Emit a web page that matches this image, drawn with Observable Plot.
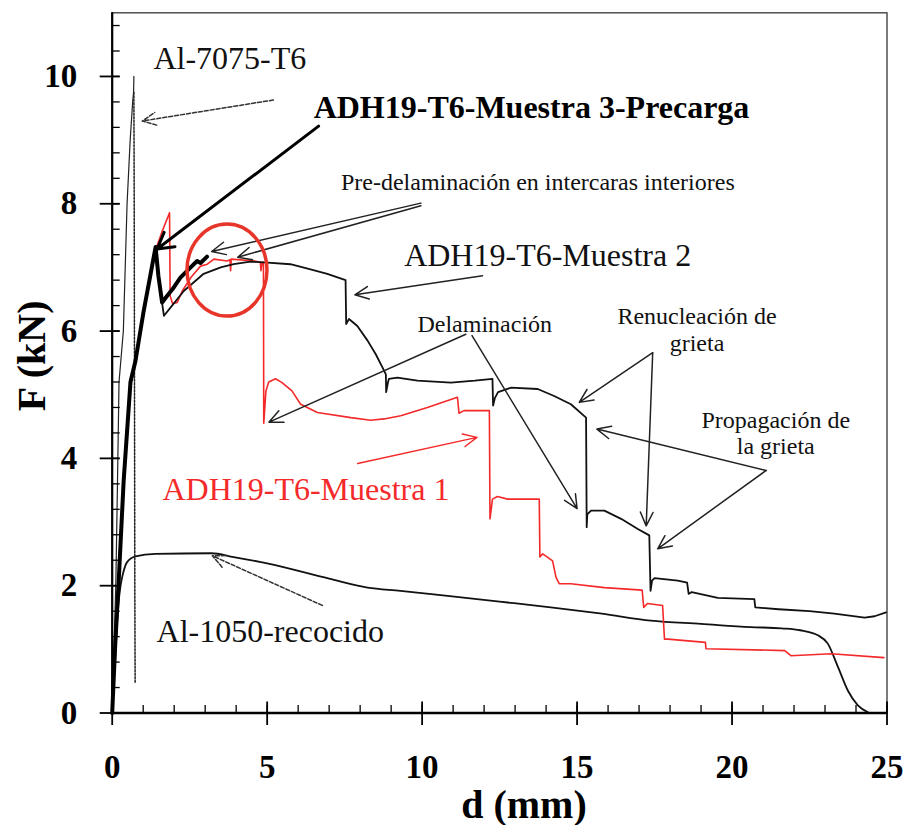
<!DOCTYPE html>
<html>
<head>
<meta charset="utf-8">
<script src="https://cdn.jsdelivr.net/npm/d3@7"></script>
<script src="https://cdn.jsdelivr.net/npm/@observablehq/plot@0.6"></script>
<style>
  html, body { margin: 0; padding: 0; background: #fff; }
  #chart { width: 906px; height: 825px; }
</style>
</head>
<body>
<div id="chart"></div>
<script>
// ---------- data (d in mm, F in kN) ----------
const al7075LoadD = [0, 0.06, 0.12, 0.17, 0.22, 0.36, 0.42, 0.48, 0.58, 0.66, 0.69, 0.70];
const al7075LoadF = [0, 1.0, 2.1, 3.6, 5.2, 6.0, 7.0, 8.0, 9.0, 9.6, 9.75, 10.0];
const al7075DropD = [0.70, 0.71, 0.72, 0.73, 0.74];
const al7075DropF = [9.75, 8.0, 5.0, 2.0, 0.46];

const m3D = [0, 0.1, 0.21, 0.37, 0.59, 0.75, 1.01, 1.24, 1.40, 1.49, 1.61, 1.75, 1.95, 2.2, 2.53, 2.74, 2.85, 3.06];
const m3F = [0, 1.1, 2.08, 3.65, 5.2, 5.53, 6.3, 6.9, 7.32, 6.87, 6.45, 6.54, 6.66, 6.84, 7.0, 7.1, 7.07, 7.17];

const m2D = [0, 0.21, 0.37, 0.59, 0.75, 1.01, 1.24, 1.40, 1.50, 1.67, 1.9, 2.31, 2.95, 3.5, 3.92, 4.46, 4.9, 5.75, 6.4, 6.94, 7.53,
  7.55, 7.64, 7.91, 8.24, 8.5, 8.72, 8.83, 8.84, 8.9, 8.93, 9.2, 9.85, 10.93, 11.7, 12.27, 12.29, 12.35, 12.45, 12.86, 13.73,
  14.26, 14.8, 15.29, 15.31, 15.33, 15.45, 15.88, 16.42, 16.96, 17.33, 17.37, 17.42, 17.5, 18.25, 18.55, 18.6, 18.7, 19.54,
  20.72, 20.75, 21.5, 22.5, 23.3, 24.28, 24.6, 24.97];
const m2F = [0, 2.08, 3.65, 5.2, 5.53, 6.3, 6.9, 7.3, 6.8, 6.24, 6.38, 6.63, 6.9, 7.0, 7.05, 7.09, 7.08, 7.05, 6.97, 6.9, 6.8,
  6.11, 6.19, 6.08, 5.85, 5.64, 5.43, 5.32, 5.04, 5.2, 5.25, 5.27, 5.22, 5.19, 5.22, 5.25, 4.83, 4.95, 5.04, 5.11, 5.09,
  4.98, 4.85, 4.64, 2.92, 3.12, 3.18, 3.18, 3.05, 2.89, 2.79, 1.92, 2.08, 2.12, 2.08, 2.05, 1.87, 1.9, 1.81,
  1.79, 1.66, 1.63, 1.6, 1.56, 1.5, 1.52, 1.58];

const m1D = [0, 0.21, 0.37, 0.59, 0.75, 1.01, 1.24, 1.42, 1.6, 1.85, 1.87, 1.95, 2.1, 2.26, 2.55, 2.85, 3.07, 3.28, 3.71, 3.8, 3.82,
  3.84, 4.6, 4.78, 4.8, 4.84, 4.88, 4.89, 4.96, 5.05, 5.27, 5.48, 5.8, 6.08, 6.62, 7.7, 8.34, 8.77, 9.31, 10.17, 11.14, 11.19,
  11.35, 12.17, 12.19, 12.27, 12.43, 12.76, 13.78, 13.8, 13.89, 14.21, 14.32, 14.43, 14.8, 15.88, 17.1, 17.15, 17.27, 17.76,
  17.82, 17.93, 19.14, 19.16, 21.7, 21.9, 23.2, 24.9];
const m1F = [0, 2.08, 3.65, 5.2, 5.53, 6.3, 6.9, 7.3, 7.55, 7.86, 6.55, 6.43, 6.45, 6.63, 6.85, 7.02, 7.05, 7.13, 7.1, 7.12, 6.95,
  7.13, 7.1, 7.08, 6.95, 7.08, 7.08, 4.55, 5.06, 5.2, 5.25, 5.19, 5.06, 4.85, 4.72, 4.64, 4.6, 4.62, 4.67, 4.8, 4.96, 4.71,
  4.75, 4.75, 3.05, 3.36, 3.4, 3.36, 3.36, 2.45, 2.5, 2.39, 2.13, 2.03, 2.03, 1.97, 1.93, 1.66, 1.72, 1.69,
  1.16, 1.16, 1.11, 1.01, 0.98, 0.9, 0.93, 0.87];

const al1050D = [0, 0.1, 0.2, 0.27, 0.32, 0.4, 0.48, 0.75, 1.4, 3.2, 3.92, 5.0, 7.0, 8.24, 9.3, 10.82, 12.5, 14.15, 15.8, 17.38,
  19.0, 20.6, 21.6, 22.2, 22.77, 23.09, 23.42, 23.74, 24.06, 24.39];
const al1050F = [0, 0.9, 1.7, 2.0, 2.13, 2.28, 2.37, 2.46, 2.5, 2.51, 2.45, 2.35, 2.11, 1.97, 1.92, 1.84, 1.75, 1.66, 1.56, 1.45,
  1.4, 1.35, 1.33, 1.3, 1.22, 1.09, 0.72, 0.35, 0.12, 0.01];

// ticks
const xMajor = [0, 5, 10, 15, 20, 25];
const xMinor = d3.range(0, 26, 1);
const yMajor = [0, 2, 4, 6, 8, 10];
const yMinor = d3.range(0, 28).map(i => +(i * 0.4).toFixed(1));

// annotations (positions in mm / kN)
const labelText = ["Al-7075-T6", "ADH19-T6-Muestra 3-Precarga", "Pre-delaminación en intercaras interiores",
  "ADH19-T6-Muestra 2", "Delaminación", "Renucleación de", "grieta", "Propagación de", "la grieta",
  "ADH19-T6-Muestra 1", "Al-1050-recocido"];
const labelX = [1.33, 6.50, 7.38, 9.42, 9.85, 18.87, 18.87, 21.41, 21.41, 1.62, 1.43];
const labelY = [10.12, 9.35, 8.22, 7.03, 5.98, 6.11, 5.69, 4.48, 4.07, 3.34, 1.11];

const arrowX1 = [5.20, 6.66, 9.96, 9.96, 11.95, 11.41, 11.61, 17.44, 17.44, 21.1, 21.1, 7.92, 6.78];
const arrowY1 = [9.63, 9.22, 8.01, 7.97, 6.87, 5.95, 5.93, 5.66, 5.66, 3.81, 3.81, 3.92, 1.69];
const arrowX2 = [0.97, 1.45, 3.21, 4.05, 7.83, 5.06, 15.0, 15.07, 17.23, 15.64, 17.6, 11.77, 3.23];
const arrowY2 = [9.30, 7.29, 7.25, 7.16, 6.57, 4.57, 3.21, 4.88, 2.94, 4.46, 2.58, 4.33, 2.47];
const arrowKind = ["dashed", "bold", "thin", "thin", "thin", "thin", "thin", "thin", "thin", "thin", "thin", "red", "dashed"];

const circleCenter = [3.72, 6.95];

// ---------- build ----------
const rows = (xs, ys) => xs.map((d, i) => ({d, F: ys[i]}));
const W = 906, H = 825, ML = 111.7, MR = 19.5, MT = 12.3, MB = 112.5;
const plotW = W - ML - MR, plotH = H - MT - MB;
const RED = "#f42a2a";
const labels = labelText.map((t, i) => ({t, x: labelX[i], y: labelY[i], i}));
const arrows = arrowKind.map((k, i) => ({k, x1: arrowX1[i], y1: arrowY1[i], x2: arrowX2[i], y2: arrowY2[i]}));
const styleOf = i => {
  const t = labelText[i];
  if (t.includes("Precarga")) return {size: 32, weight: "bold", color: "#000", anchor: "start"};
  if (t.includes("Muestra 1")) return {size: 32, weight: "normal", color: RED, anchor: "start"};
  if (t.startsWith("Al-") || t.includes("Muestra 2")) return {size: 32, weight: "normal", color: "#111", anchor: "start"};
  if (/grieta|Renucleación|Propagación/.test(t)) return {size: 24, weight: "normal", color: "#111", anchor: "middle"};
  return {size: 24, weight: "normal", color: "#111", anchor: "start"};
};
const labelMarks = labels.map(l => {
  const s = styleOf(l.i);
  return Plot.text([l], {x: "x", y: "y", text: "t", textAnchor: s.anchor, lineAnchor: "bottom",
    fontSize: s.size, fontWeight: s.weight, fill: s.color});
});

const plot = Plot.plot({
  width: W, height: H,
  marginLeft: ML, marginRight: MR, marginTop: MT, marginBottom: MB,
  x: {domain: [0, 25], axis: null},
  y: {domain: [0, 11], axis: null},
  style: {fontFamily: "'Liberation Serif', 'Times New Roman', serif", background: "#fff", color: "#000", overflow: "visible"},
  marks: [
    Plot.frame({stroke: "#444", strokeWidth: 1.4}),
    Plot.line(rows(al1050D, al1050F), {x: "d", y: "F", stroke: "#111", strokeWidth: 1.8, curve: "monotone-x"}),
    Plot.line(rows(m1D, m1F), {x: "d", y: "F", stroke: RED, strokeWidth: 1.6}),
    Plot.line(rows(m2D, m2F), {x: "d", y: "F", stroke: "#111", strokeWidth: 1.8}),
    Plot.line(rows(al7075LoadD, al7075LoadF), {x: "d", y: "F", stroke: "#222", strokeWidth: 1.2}),
    Plot.line(rows(al7075DropD, al7075DropF), {x: "d", y: "F", stroke: "#222", strokeWidth: 1.5, strokeDasharray: "2,1.5"}),
    Plot.line(rows(m3D, m3F), {x: "d", y: "F", stroke: "#000", strokeWidth: 4, strokeLinejoin: "round"}),
    // axis lines
    Plot.ruleX([0], {stroke: "#000", strokeWidth: 2.2}),
    Plot.ruleY([0], {stroke: "#000", strokeWidth: 2.5}),
    // ticks
    Plot.ruleY(yMinor, {y: d => d, insetRight: plotW - 8, stroke: "#000", strokeWidth: 1.3}),
    Plot.ruleY(yMajor, {y: d => d, insetLeft: -12, insetRight: plotW - 8, stroke: "#000", strokeWidth: 1.8}),
    Plot.ruleX(xMinor, {x: d => d, insetTop: plotH - 7.5, stroke: "#000", strokeWidth: 1.3}),
    Plot.ruleX(xMajor, {x: d => d, insetTop: plotH - 11, insetBottom: -12.5, stroke: "#000", strokeWidth: 1.8}),
    // tick labels
    Plot.text(yMajor, {y: d => d, text: d => String(d), frameAnchor: "left", dx: -35, textAnchor: "end",
      fontSize: 33, fontWeight: "bold", fill: "#000"}),
    Plot.text(xMajor, {x: d => d, text: d => String(d), frameAnchor: "bottom", lineAnchor: "bottom", dy: 64.5,
      fontSize: 33, fontWeight: "bold", fill: "#000"}),
    // axis titles
    Plot.text(["F (kN)"], {text: d => d, frameAnchor: "left", dx: 44 - ML, dy: -7, rotate: -90, lineAnchor: "bottom",
      textAnchor: "middle", fontSize: 40, fontWeight: "bold", fill: "#000"}),
    Plot.text(["d (mm)"], {text: d => d, frameAnchor: "bottom", dx: 24.4, dy: 104.5, lineAnchor: "bottom",
      textAnchor: "middle", fontSize: 40, fontWeight: "bold", fill: "#000"}),
    // arrows
    Plot.arrow(arrows.filter(a => a.k === "thin"), {x1: "x1", y1: "y1", x2: "x2", y2: "y2", stroke: "#222",
      strokeWidth: 1.5, headLength: 15, headAngle: 50}),
    Plot.arrow(arrows.filter(a => a.k === "dashed"), {x1: "x1", y1: "y1", x2: "x2", y2: "y2", stroke: "#333",
      strokeWidth: 1.5, strokeDasharray: "4,2", headLength: 15, headAngle: 50}),
    Plot.arrow(arrows.filter(a => a.k === "bold"), {x1: "x1", y1: "y1", x2: "x2", y2: "y2", stroke: "#000",
      strokeWidth: 3, headLength: 9, headAngle: 60}),
    Plot.arrow(arrows.filter(a => a.k === "red"), {x1: "x1", y1: "y1", x2: "x2", y2: "y2", stroke: RED,
      strokeWidth: 1.5, headLength: 15, headAngle: 50}),
    ...labelMarks
  ]
});

// red ellipse highlighting the pre-delamination zone
const sx = plot.scale("x"), sy = plot.scale("y");
d3.select(plot).append("ellipse")
  .attr("cx", sx.apply(circleCenter[0])).attr("cy", sy.apply(circleCenter[1]))
  .attr("rx", 40).attr("ry", 46)
  .attr("fill", "none").attr("stroke", "#e8352a").attr("stroke-width", 3.5);

document.getElementById("chart").appendChild(plot);
</script>
</body>
</html>
